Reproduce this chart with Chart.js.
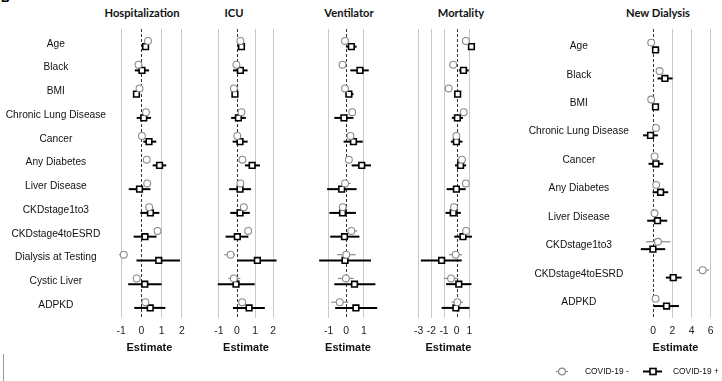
<!DOCTYPE html>
<html lang="en">
<head>
<meta charset="UTF-8" />
<title>Forest plots</title>
<script src="https://cdn.jsdelivr.net/npm/chart.js"></script>
<style>
  html, body { margin: 0; padding: 0; background: #fff; }
  body { width: 722px; height: 381px; position: relative; overflow: hidden; }
  canvas { position: absolute; top: 0; }
  .ttl { position: absolute; top: 5px; transform: translateX(-50%); font-family: Lato, 'Open Sans', sans-serif;
         font-weight: 700; font-size: 11.2px; line-height: 16px; white-space: nowrap; color: #111; }
  .tag { position: absolute; left: 1px; top: -9px; font: bold 12px 'Liberation Sans', Arial, sans-serif; }
  .edge { position: absolute; left: 3px; top: 354px; width: 1px; height: 27px; background: #999; }
</style>
</head>
<body>
  <div class="tag">B</div>
  <div class="edge"></div>

  <div class="ttl" style="left:142px">Hospitalization</div>
  <div class="ttl" style="left:234px">ICU</div>
  <div class="ttl" style="left:349px">Ventilator</div>
  <div class="ttl" style="left:461px">Mortality</div>
  <div class="ttl" style="left:658px">New Dialysis</div>

  <canvas id="hosp" width="192" height="381" style="left:0px"></canvas>
  <canvas id="icu" width="80" height="381" style="left:206px"></canvas>
  <canvas id="vent" width="78" height="381" style="left:309px"></canvas>
  <canvas id="mort" width="78" height="381" style="left:407px"></canvas>
  <canvas id="dial" width="203" height="381" style="left:519px"></canvas>

<script>
const rows = ['Age', 'Black', 'BMI', 'Chronic Lung Disease', 'Cancer', 'Any Diabetes', 'Liver Disease',
  'CKDstage1to3', 'CKDstage4toESRD', 'Dialysis at Testing', 'Cystic Liver', 'ADPKD'];
const dialRows = ['Age', 'Black', 'BMI', 'Chronic Lung Disease', 'Cancer', 'Any Diabetes', 'Liver Disease',
  'CKDstage1to3', 'CKDstage4toESRD', 'ADPKD'];

// Hospitalization
const hospNeg   = [0.33, -0.14, -0.09, 0.23, 0.03, 0.27, 0.29, 0.39, 0.80, -0.87, -0.23, 0.20];
const hospNegLo = [0.25, -0.22, -0.14, 0.14, -0.05, 0.19, 0.20, 0.30, 0.71, -1.10, -0.32, 0.11];
const hospNegHi = [0.41, -0.06, -0.04, 0.32, 0.11, 0.35, 0.38, 0.48, 0.89, -0.68, -0.14, 0.29];
const hospPos   = [0.21, 0.03, -0.24, 0.12, 0.38, 0.90, -0.09, 0.45, 0.18, 0.86, 0.17, 0.44];
const hospPosLo = [0.10, -0.32, -0.32, -0.23, 0.10, 0.56, -0.62, -0.05, -0.38, -0.24, -0.65, -0.35];
const hospPosHi = [0.32, 0.38, -0.16, 0.48, 0.74, 1.23, 0.45, 0.89, 0.75, 1.91, 1.00, 1.19];

// ICU
const icuNeg   = [0.19, -0.03, -0.17, 0.25, 0.02, 0.30, 0.19, 0.38, 0.62, -0.35, -0.17, 0.29];
const icuNegLo = [0.12, -0.10, -0.24, 0.17, -0.06, 0.22, 0.11, 0.29, 0.53, -0.70, -0.48, 0.13];
const icuNegHi = [0.26, 0.04, -0.10, 0.33, 0.10, 0.38, 0.27, 0.47, 0.71, -0.10, 0.19, 0.46];
const icuPos   = [0.25, 0.19, -0.11, 0.08, 0.17, 0.84, 0.17, 0.17, 0.02, 1.13, -0.05, 0.67];
const icuPosLo = [0.10, -0.22, -0.18, -0.32, -0.24, 0.44, -0.43, -0.37, -0.63, 0.03, -1.06, -0.22];
const icuPosHi = [0.44, 0.59, -0.04, 0.49, 0.59, 1.27, 0.78, 0.71, 0.63, 2.19, 0.98, 1.54];

// Ventilator
const ventNeg   = [-0.07, -0.21, -0.07, 0.34, 0.24, 0.15, -0.07, -0.20, 0.29, 0.00, -0.02, -0.37];
const ventNegLo = [-0.15, -0.36, -0.15, 0.25, 0.15, 0.06, -0.28, -0.40, 0.10, -0.52, -0.47, -0.85];
const ventNegHi = [0.01, -0.06, 0.01, 0.43, 0.33, 0.24, 0.26, 0.05, 0.62, 0.54, 0.42, 0.13];
const ventPos   = [0.29, 0.78, 0.15, -0.13, 0.41, 0.88, -0.26, -0.21, -0.10, -0.07, 0.47, 0.55];
const ventPosLo = [0.00, 0.23, -0.03, -0.68, -0.15, 0.31, -1.09, -0.96, -0.91, -1.54, -0.68, -0.63];
const ventPosHi = [0.59, 1.28, 0.41, 0.41, 0.94, 1.41, 0.59, 0.55, 0.75, 1.41, 1.66, 1.76];

// Mortality
const mortNeg   = [0.73, -0.27, -0.63, 0.56, -0.02, 0.42, 0.73, -0.21, 0.75, -0.08, -0.44, 0.06];
const mortNegLo = [0.63, -0.45, -0.73, 0.46, -0.12, 0.32, 0.63, -0.46, 0.54, -0.60, -1.02, -0.40];
const mortNegHi = [0.83, -0.09, -0.53, 0.66, 0.08, 0.52, 0.83, 0.04, 0.96, 0.44, 0.13, 0.50];
const mortPos   = [1.17, 0.54, 0.08, 0.06, -0.02, 0.31, -0.02, -0.27, 0.50, -1.19, 0.17, -0.06];
const mortPosLo = [0.96, 0.17, -0.02, -0.38, -0.46, -0.13, -0.79, -0.88, -0.19, -2.83, -0.83, -1.19];
const mortPosHi = [1.38, 0.96, 0.18, 0.50, 0.46, 0.75, 0.71, 0.33, 1.21, 0.40, 1.17, 1.02];

// New Dialysis
const dialNeg   = [-0.21, 0.66, -0.21, 0.28, 0.14, 0.31, 0.14, 0.49, 5.16, 0.24];
const dialNegLo = [-0.35, 0.50, -0.35, 0.12, -0.02, 0.15, -0.02, -0.77, 4.53, 0.08];
const dialNegHi = [-0.07, 0.82, -0.07, 0.44, 0.30, 0.47, 0.30, 1.81, 5.82, 0.40];
const dialPos   = [0.24, 1.22, 0.24, -0.28, 0.28, 0.77, 0.45, -0.03, 2.09, 1.39];
const dialPosLo = [-0.07, 0.45, 0.05, -1.05, -0.49, -0.07, -0.63, -1.29, 1.32, 0.07];
const dialPosHi = [0.63, 2.02, 0.43, 0.49, 1.05, 1.57, 1.46, 1.25, 2.96, 2.68];

const hospTicks = [-1, 0, 1, 2];
const icuTicks = [-1, 0, 1, 2];
const ventTicks = [-1, 0, 1];
const mortTicks = [-3, -2, -1, 0, 1];
const dialTicks = [0, 2, 4, 6];

const legendLabels = ['COVID-19 -', 'COVID-19 +'];

const FONT = "'Liberation Sans', Arial, sans-serif";
const GREY = '#8a8a8a';

const zeroLine = {
  id: 'zeroLine',
  beforeDatasetsDraw(chart) {
    const { ctx, chartArea, scales: { x } } = chart;
    const px = Math.round(x.getPixelForValue(0)) + 0.5;
    ctx.save();
    ctx.setLineDash([3, 2]);
    ctx.strokeStyle = '#333';
    ctx.lineWidth = 1;
    ctx.beginPath();
    ctx.moveTo(px, chartArea.top);
    ctx.lineTo(px, chartArea.bottom);
    ctx.stroke();
    ctx.restore();
  }
};

const errorBars = {
  id: 'errorBars',
  beforeDatasetsDraw(chart) {
    const { ctx, scales: { x, y } } = chart;
    chart.data.datasets.forEach(ds => {
      ctx.save();
      ctx.strokeStyle = ds.borderColor;
      ctx.lineWidth = ds.whiskerWidth;
      ds.data.forEach((p, i) => {
        const py = y.getPixelForValue(p.y);
        ctx.beginPath();
        ctx.moveTo(x.getPixelForValue(ds.lo[i]), py);
        ctx.lineTo(x.getPixelForValue(ds.hi[i]), py);
        ctx.stroke();
      });
      ctx.restore();
    });
  }
};

const legendPlugin = {
  id: 'legendBox',
  afterDraw(chart) {
    const ctx = chart.ctx;
    const y = 371.5;
    ctx.save();
    // COVID-19 -
    ctx.strokeStyle = GREY; ctx.lineWidth = 1.2;
    ctx.beginPath(); ctx.moveTo(37, y); ctx.lineTo(49, y); ctx.stroke();
    ctx.fillStyle = '#fff';
    ctx.beginPath(); ctx.arc(43, y, 3.4, 0, Math.PI * 2); ctx.fill(); ctx.stroke();
    // COVID-19 +
    ctx.strokeStyle = '#000'; ctx.lineWidth = 2;
    ctx.beginPath(); ctx.moveTo(124, y); ctx.lineTo(143, y); ctx.stroke();
    ctx.lineWidth = 1.6;
    ctx.fillRect(131, y - 3, 6, 6); ctx.strokeRect(131, y - 3, 6, 6);
    ctx.fillStyle = '#111';
    ctx.font = '8.4px ' + FONT;
    ctx.textBaseline = 'middle';
    ctx.fillText(legendLabels[0], 66, y);
    ctx.fillText(legendLabels[1], 154, y);
    ctx.restore();
  }
};

function makePanel(id, p) {
  const shift = p.shift;
  const neg = p.neg.map((v, i) => ({ x: v, y: i - shift }));
  const pos = p.pos.map((v, i) => ({ x: v, y: i + shift }));
  const plugins = [zeroLine, errorBars];
  if (p.legend) plugins.push(legendPlugin);
  return new Chart(document.getElementById(id), {
    type: 'scatter',
    data: {
      datasets: [
        { label: legendLabels[0], data: neg, lo: p.negLo, hi: p.negHi, whiskerWidth: 1.2,
          pointStyle: 'circle', pointRadius: 3.4, borderColor: GREY, backgroundColor: '#fff', borderWidth: 1.1 },
        { label: legendLabels[1], data: pos, lo: p.posLo, hi: p.posHi, whiskerWidth: 2,
          pointStyle: 'rect', pointRadius: 4, borderColor: '#000', backgroundColor: '#fff', borderWidth: 1.6 }
      ]
    },
    options: {
      responsive: false,
      animation: false,
      events: [],
      layout: { padding: { top: 29, bottom: 0, left: 0, right: p.padRight || 0 } },
      plugins: { legend: { display: false }, tooltip: { enabled: false } },
      scales: {
        x: {
          type: 'linear', min: p.xMin, max: p.xMax,
          afterBuildTicks: s => { s.ticks = p.ticks.map(v => ({ value: v })); },
          afterFit: s => { s.height = 63; },
          grid: { color: c => (c.tick && c.tick.value === 0) ? 'rgba(0,0,0,0)' : '#c8c8c8', drawTicks: false, lineWidth: 1 },
          border: { display: false },
          ticks: { padding: 7, autoSkip: false, maxRotation: 0, color: '#222', font: { size: 10.4, family: FONT } },
          title: { display: true, text: 'Estimate', color: '#111', font: { size: 11, weight: 'bold', family: FONT },
                   padding: { top: 0, bottom: 26 } }
        },
        y: {
          type: 'linear', reverse: true, min: p.yMin, max: p.yMax, display: !!p.labels,
          afterBuildTicks: s => { s.ticks = (p.labels || []).map((_, i) => ({ value: i })); },
          afterFit: s => { s.width = p.labelWidth || 0; },
          grid: { display: false, drawTicks: false },
          border: { display: false },
          ticks: { autoSkip: false, crossAlign: 'center', padding: p.labelPad || 7, color: '#111',
                   font: { size: 10.2, family: FONT }, callback: v => (p.labels ? p.labels[v] : '') }
        }
      }
    },
    plugins
  });
}

const yMin12 = -0.623, yMax12 = 11.545;

makePanel('hosp', { labels: rows, labelWidth: 113, labelPad: 7, neg: hospNeg, negLo: hospNegLo, negHi: hospNegHi,
  pos: hospPos, posLo: hospPosLo, posHi: hospPosHi, ticks: hospTicks, xMin: -1.4, xMax: 2.2,
  yMin: yMin12, yMax: yMax12, shift: 0.12 });
makePanel('icu', { neg: icuNeg, negLo: icuNegLo, negHi: icuNegHi, pos: icuPos, posLo: icuPosLo, posHi: icuPosHi,
  ticks: icuTicks, xMin: -1.4, xMax: 2.4, yMin: yMin12, yMax: yMax12, shift: 0.12 });
makePanel('vent', { neg: ventNeg, negLo: ventNegLo, negHi: ventNegHi, pos: ventPos, posLo: ventPosLo, posHi: ventPosHi,
  ticks: ventTicks, xMin: -1.8, xMax: 2.0, yMin: yMin12, yMax: yMax12, shift: 0.12 });
makePanel('mort', { neg: mortNeg, negLo: mortNegLo, negHi: mortNegHi, pos: mortPos, posLo: mortPosLo, posHi: mortPosHi,
  ticks: mortTicks, xMin: -3.1, xMax: 1.8, yMin: yMin12, yMax: yMax12, shift: 0.12 });
makePanel('dial', { labels: dialRows, labelWidth: 116, labelPad: 6, padRight: 6, legend: true,
  neg: dialNeg, negLo: dialNegLo, negHi: dialNegHi, pos: dialPos, posLo: dialPosLo, posHi: dialPosHi,
  ticks: dialTicks, xMin: -1.9, xMax: 6.55, yMin: -0.608, yMax: 9.55, shift: 0.13 });
</script>
</body>
</html>
